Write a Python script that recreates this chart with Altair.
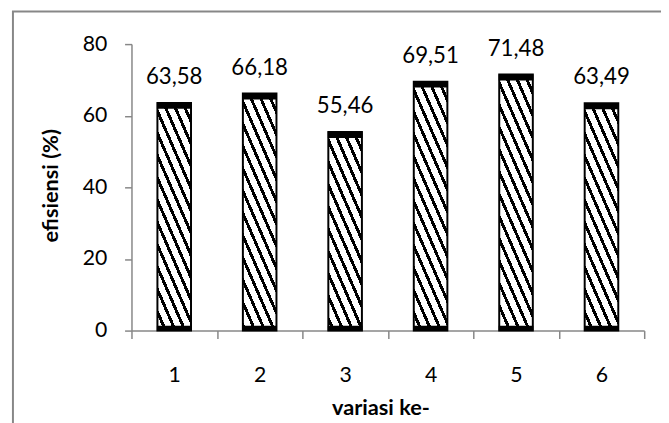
import math
import altair as alt

# ---- data ----
variasi = ["1", "2", "3", "4", "5", "6"]
efisiensi = [63.58, 66.18, 55.46, 69.51, 71.48, 63.49]
labels = ["63,58", "66,18", "55,46", "69,51", "71,48", "63,49"]

# ---- layout / style ----
PLOT_W = 519
PLOT_H = 290
Y_MAX = 80
BAR_W = 34
SLOPE = 2.3      # hatch line slope (down-right)
PERIOD = 9.0     # px between hatch lines (perpendicular)
DARK = 3.0       # px thickness of hatch lines
GRAY = "#878787"
FONT = "Lato"


def hatch(v):
    w = BAR_W
    h = v * PLOT_H / Y_MAX
    k = SLOPE * w / h
    b = (1 + k) / (1 + k * k)
    a = -k * b
    G = math.hypot(a / w, b / h) / (a * a + b * b)
    dt = PERIOD * G
    dk = DARK * G
    stops = []
    t = 0.0
    while t < 1:
        m = min(t + dt - dk, 1.0)
        e = min(t + dt, 1.0)
        stops += [
            {"offset": round(t, 5), "color": "#ffffff"},
            {"offset": round(m, 5), "color": "#ffffff"},
            {"offset": round(m, 5), "color": "#000000"},
            {"offset": round(e, 5), "color": "#000000"},
        ]
        t += dt
    return {"gradient": "linear", "x1": 1, "y1": 0, "x2": 1 + a, "y2": b,
            "stops": stops}


rows = [
    {"variasi": c, "efisiensi": v, "label": l, "hatch": hatch(v)}
    for c, v, l in zip(variasi, efisiensi, labels)
]
data = alt.Data(values=rows)

x_enc = alt.X(
    "variasi:O",
    sort=variasi,
    scale=alt.Scale(paddingInner=0, paddingOuter=0),
    axis=alt.Axis(
        title="variasi ke-",
        labelAngle=0,
        tickBand="extent",
        domainColor=GRAY,
        domainWidth=1.5,
        tickColor=GRAY,
        tickWidth=1.5,
        tickSize=8,
        labelPadding=27,
        labelFont=FONT,
        labelFontSize=21.5,
        labelColor="#000000",
        titleFont=FONT,
        titleFontSize=22,
        titleFontWeight="bold",
        titleColor="#000000",
        titleX=252,
        titleY=85,
        titleBaseline="alphabetic",
    ),
)
y_enc = alt.Y(
    "efisiensi:Q",
    scale=alt.Scale(domain=[0, Y_MAX], nice=False),
    axis=alt.Axis(
        title="efisiensi (%)",
        values=[0, 20, 40, 60, 80],
        grid=False,
        domainColor=GRAY,
        domainWidth=1.5,
        tickColor=GRAY,
        tickWidth=1.5,
        tickSize=7,
        labelPadding=18,
        labelFont=FONT,
        labelFontSize=21.5,
        labelColor="#000000",
        titleFont=FONT,
        titleFontSize=22,
        titleFontWeight="bold",
        titleColor="#000000",
        titleX=-75,
        titleY=143,
        titleAngle=270,
        titleBaseline="alphabetic",
    ),
)

base = alt.Chart(data)

frame = alt.Chart(alt.Data(values=[{"f": 1}])).mark_rect(
    fill=None, stroke=GRAY, strokeWidth=2
).encode(
    x=alt.value(-120), x2=alt.value(700), y=alt.value(-33), y2=alt.value(500)
)

bars = base.mark_bar(size=BAR_W, stroke="#000000", strokeWidth=2).encode(
    x=x_enc,
    y=y_enc,
    fill=alt.Fill("hatch:N", scale=None),
)

top_band = base.mark_tick(
    color="#000000", size=BAR_W + 1, thickness=6, yOffset=3, opacity=1
).encode(x=alt.X("variasi:O", sort=variasi), y="efisiensi:Q")

bottom_band = base.mark_tick(
    color="#000000", size=BAR_W + 1, thickness=5, yOffset=-2.5, opacity=1
).encode(x=alt.X("variasi:O", sort=variasi), y=alt.datum(0))

text = base.mark_text(
    baseline="alphabetic", dy=-19, font=FONT, fontSize=22.5, color="#000000"
).encode(x=alt.X("variasi:O", sort=variasi), y="efisiensi:Q", text="label:N")

chart = alt.layer(frame, bars, top_band, bottom_band, text).properties(
    width=PLOT_W,
    height=PLOT_H,
    autosize=alt.AutoSizeParams(type="none"),
    padding={"left": 125, "top": 34, "right": 17, "bottom": 91},
    background="#ffffff",
).configure_view(stroke=None)

chart.save("out.html", embed_options={"renderer": "svg", "actions": False})
